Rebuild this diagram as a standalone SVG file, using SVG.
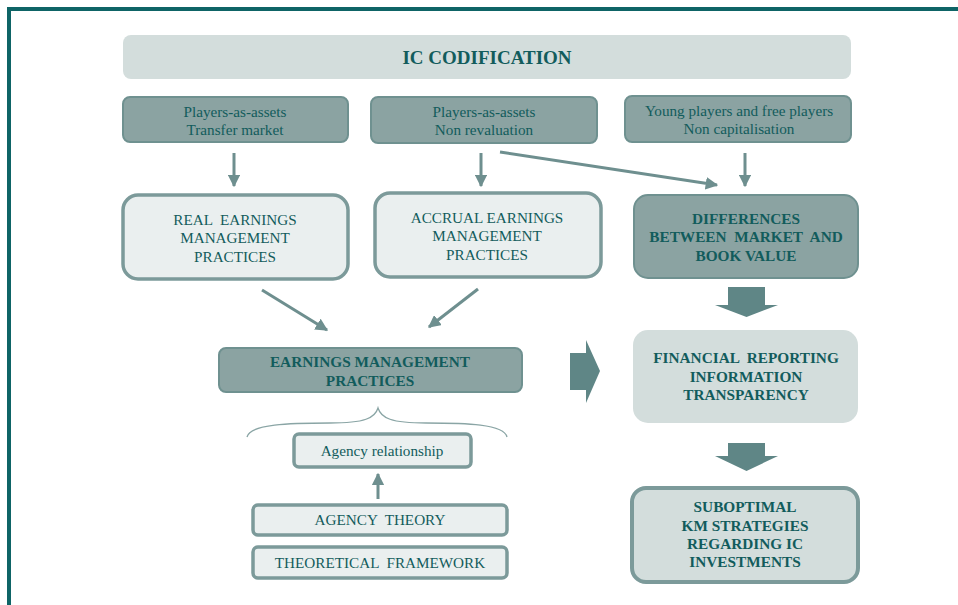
<svg xmlns="http://www.w3.org/2000/svg" width="958" height="605" viewBox="0 0 958 605">
<defs>
<marker id="ah" viewBox="0 0 10 10" refX="9" refY="5" markerWidth="4.2" markerHeight="4.2" orient="auto" markerUnits="strokeWidth">
<path d="M0,0 L10,5 L0,10 z" fill="#6e8f8f"/>
</marker>
<style>
text{font-family:"Liberation Serif","Times New Roman",serif;fill:#125c5c;text-anchor:middle}
.t{font-size:15.2px}
.b{font-size:15.3px;font-weight:bold}
.dark{fill:#8ba3a2;stroke:#6f9190;stroke-width:2}
.light{fill:#eaefef;stroke:#7c9a9a;stroke-width:3.5}
.grey{fill:#d3dddc}
.ln{stroke:#6e8f8f;stroke-width:3;fill:none;marker-end:url(#ah)}
.blk{fill:#5f8686}
</style>
</defs>
<rect width="958" height="605" fill="#ffffff"/>
<path d="M9,605 V9 H958" fill="none" stroke="#0e6466" stroke-width="4"/>

<g id="ic-codification">
<rect class="grey" x="123" y="35" width="728" height="44" rx="8"/>
<text x="487" y="64" style="font-size:19px;font-weight:bold">IC CODIFICATION</text>
</g>
<g id="transfer-market">
<rect class="dark" x="123" y="97" width="225" height="45" rx="7"/>
<text class="t" x="235" y="117">Players-as-assets</text>
<text class="t" x="235" y="135">Transfer market</text>
</g>
<g id="non-revaluation">
<rect class="dark" x="371" y="97" width="226" height="46" rx="7"/>
<text class="t" x="484" y="117">Players-as-assets</text>
<text class="t" x="484" y="135">Non revaluation</text>
</g>
<g id="young-players">
<rect class="dark" x="625" y="96" width="226" height="46" rx="7"/>
<text class="t" x="739" y="116">Young players and free players</text>
<text class="t" x="739" y="134">Non capitalisation</text>
</g>
<g id="real-em">
<rect class="light" x="123" y="195" width="225" height="84" rx="15"/>
<text class="t" x="235" y="225" xml:space="preserve">REAL  EARNINGS</text>
<text class="t" x="235" y="243">MANAGEMENT</text>
<text class="t" x="235" y="262">PRACTICES</text>
</g>
<g id="accrual-em">
<rect class="light" x="375" y="193" width="226" height="84" rx="15"/>
<text class="t" x="487" y="223">ACCRUAL EARNINGS</text>
<text class="t" x="487" y="241">MANAGEMENT</text>
<text class="t" x="487" y="260">PRACTICES</text>
</g>
<g id="differences">
<rect class="dark" x="634" y="195" width="224" height="83" rx="14"/>
<text class="b" x="746" y="224">DIFFERENCES</text>
<text class="b" x="746" y="242" xml:space="preserve">BETWEEN  MARKET  AND</text>
<text class="b" x="746" y="261">BOOK VALUE</text>
</g>
<g id="em-practices">
<rect class="dark" x="219" y="348" width="303" height="44" rx="7"/>
<text class="b" x="370" y="367">EARNINGS MANAGEMENT</text>
<text class="b" x="370" y="386">PRACTICES</text>
</g>
<g id="financial-reporting">
<rect class="grey" x="633" y="330" width="225" height="93" rx="15"/>
<text class="b" x="746" y="363" xml:space="preserve">FINANCIAL  REPORTING</text>
<text class="b" x="746" y="382">INFORMATION</text>
<text class="b" x="746" y="400">TRANSPARENCY</text>
</g>
<g id="suboptimal">
<rect class="grey" x="632" y="488" width="226" height="94" rx="14" stroke="#7c9a9a" stroke-width="4"/>
<text class="b" x="745" y="512">SUBOPTIMAL</text>
<text class="b" x="745" y="531">KM STRATEGIES</text>
<text class="b" x="745" y="549">REGARDING IC</text>
<text class="b" x="745" y="567">INVESTMENTS</text>
</g>
<g id="agency-relationship">
<rect class="light" x="294" y="434" width="177" height="33" rx="5"/>
<text class="t" x="382" y="456">Agency relationship</text>
</g>
<g id="agency-theory">
<rect class="light" x="253" y="505" width="254" height="30" rx="5"/>
<text class="t" x="380" y="525" xml:space="preserve">AGENCY  THEORY</text>
</g>
<g id="theoretical-framework">
<rect class="light" x="253" y="547" width="254" height="31" rx="5"/>
<text class="t" x="380" y="568" xml:space="preserve">THEORETICAL  FRAMEWORK</text>
</g>

<g id="connectors">
<line class="ln" x1="234" y1="153" x2="234" y2="186"/>
<line class="ln" x1="481" y1="153" x2="481" y2="186"/>
<line class="ln" x1="745" y1="153" x2="745" y2="186"/>
<line class="ln" x1="500" y1="152" x2="717" y2="185"/>
<line class="ln" x1="262" y1="290" x2="327" y2="330"/>
<line class="ln" x1="478" y1="289" x2="429" y2="327"/>
<line class="ln" x1="378" y1="499" x2="378" y2="474"/>
<path d="M247,437 C250,424 290,423 330,423 C365,423 375,418 378,408 C381,418 391,423 426,423 C466,423 504,424 507,437" fill="none" stroke="#8aa5a5" stroke-width="1.3"/>
<path class="blk" d="M728,287 H765 V305 H778 L746.5,317 L715,305 H728 Z"/>
<path class="blk" d="M728,443 H765 V456 H778 L746.5,471 L715,456 H728 Z"/>
<path class="blk" d="M570,353 H586 V340 L600,371 L586,403 V390 H570 Z"/>
</g>
</svg>
